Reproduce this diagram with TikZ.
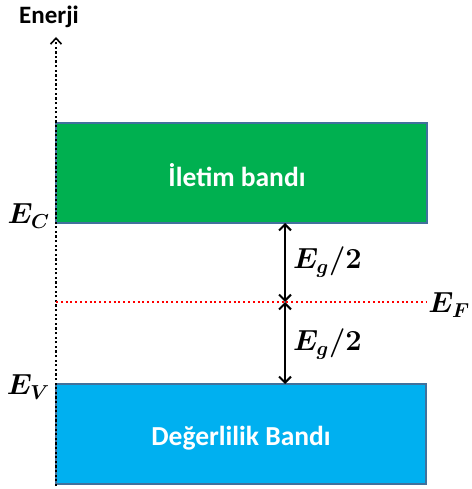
\documentclass[tikz,border=0pt]{standalone}
\usepackage{fontspec}
\setmainfont{Carlito}
\usepackage{amsmath,bm}
\usetikzlibrary{arrows.meta}
\definecolor{cbgreen}{HTML}{00B050}
\definecolor{cbblue}{HTML}{00B0F0}
\definecolor{cbedge}{HTML}{41719C}
\newcommand{\biglbl}[1]{\scalebox{1.4}{\fontsize{21}{24}\selectfont$\bm{#1}$}}
\tikzset{
  x=1pt,y=-1pt,
  bandbox/.style={draw=cbedge,line width=1.5pt},
  bandtext/.style={text=white,font=\bfseries\fontsize{27.5}{30}\selectfont},
  elabel/.style={inner sep=0pt},
  gaparrow/.style={line width=2pt,{Straight Barb[length=6pt,width=12pt]}-{Straight Barb[length=6pt,width=12pt]}},
}
\begin{document}
\begin{tikzpicture}
\useasboundingbox (0,0) rectangle (471,489);
% bands
\draw[bandbox,fill=cbgreen] (56,123) rectangle (427,223);
\node[bandtext] (cb) at (237,175) {İletim bandı};
\draw[bandbox,fill=cbblue] (56,384) rectangle (426,484);
\node[bandtext] (vb) at (241,438) {Değerlilik Bandı};
% axis
\coordinate (ax0) at (56,486);
\coordinate (ax1) at (56,37);
\draw[line width=2.3pt,dash pattern=on 2.3pt off 2.3pt,-{Straight Barb[length=6pt,width=11pt,line width=1.6pt]}] (ax0) -- (ax1);
\node[font=\bfseries\fontsize{25}{28}\selectfont] (en) at (49,17) {Enerji};
% Fermi level
\coordinate (f0) at (56,302);
\coordinate (f1) at (426,302);
\draw[red,line width=1.8pt,dash pattern=on 2pt off 2.8pt] (f0) -- (f1);
\node[elabel,anchor=east] (ef) at (470,305) {\biglbl{E_F}};
\node[elabel,anchor=east] (ec) at (50,216) {\biglbl{E_C}};
\node[elabel,anchor=east] (ev) at (50,387) {\biglbl{E_V}};
% gap arrows
\coordinate (a0) at (285,223);
\coordinate (a1) at (285,302);
\coordinate (a2) at (285,384);
\draw[gaparrow] (a0) -- (a1);
\draw[gaparrow] (a1) -- (a2);
\node[elabel,anchor=west] (g1) at (293,262) {\biglbl{E_g/2}};
\node[elabel,anchor=west] (g2) at (293,344) {\biglbl{E_g/2}};
\end{tikzpicture}
\end{document}
